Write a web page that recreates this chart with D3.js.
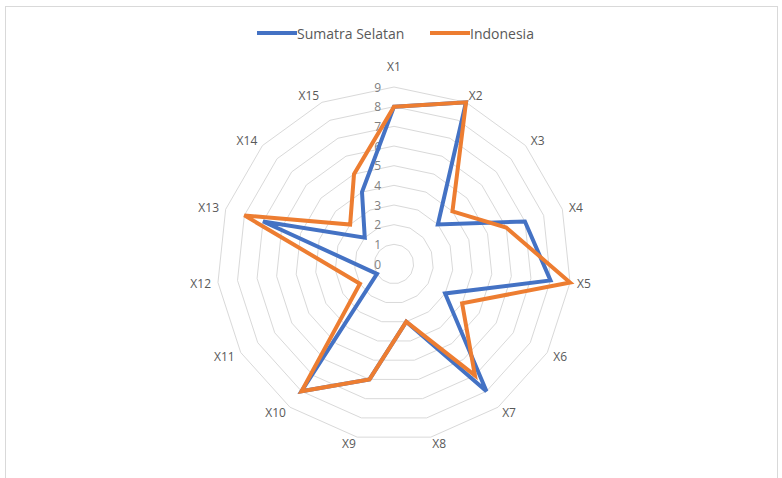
<!DOCTYPE html>
<html>
<head>
<meta charset="utf-8">
<script src="https://cdn.jsdelivr.net/npm/d3@7"></script>
<style>
  html, body { margin: 0; padding: 0; background: #ffffff; }
  svg { display: block; font-family: "Open Sans", "Liberation Sans", sans-serif; }
</style>
</head>
<body>
<svg id="chart" width="782" height="478"></svg>
<script>
// Axis categories
const categories = ["X1","X2","X3","X4","X5","X6","X7","X8","X9","X10","X11","X12","X13","X14","X15"];
// Series values (X12 is empty in both series; the line connects across it)
const sumatraSelatan = [8, 9, 3, 7, 8, 3, 8, 3, 6, 8, 1, null, 7, 2, 4];
const indonesia      = [8, 9, 4, 6, 9, 4, 7, 3, 6, 8, 2, null, 8, 3, 5];
// Radial tick labels
const tickValues = [0, 1, 2, 3, 4, 5, 6, 7, 8, 9];

const seriesNames = ["Sumatra Selatan", "Indonesia"];
const seriesColors = ["#4472C4", "#ED7D31"];

const svg = d3.select("#chart");
const cx = 394, cy = 264;
const outerR = 177;

// Outer chart frame
svg.append("rect")
  .attr("x", 5.5).attr("y", 6.5)
  .attr("width", 772).attr("height", 500)
  .attr("fill", "#ffffff")
  .attr("stroke", "#d9d9d9").attr("stroke-width", 1);

const r = d3.scaleLinear().domain([0, 9]).range([0, outerR]);
const angle = d3.scaleLinear().domain([0, categories.length]).range([0, 2 * Math.PI]);

const g = svg.append("g").attr("transform", `translate(${cx},${cy})`);

// Grid rings (polygons)
const ringLine = d3.lineRadial()
  .angle((d, i) => angle(i))
  .radius(d => r(d))
  .curve(d3.curveLinearClosed);

g.append("g").selectAll("path")
  .data(tickValues.filter(v => v > 0))
  .join("path")
  .attr("d", v => ringLine(categories.map(() => v)))
  .attr("fill", "none")
  .attr("stroke", "#d9d9d9")
  .attr("stroke-width", 1);

// Radial value labels along the X1 axis
g.append("g").selectAll("text")
  .data(tickValues)
  .join("text")
  .attr("x", -13)
  .attr("y", v => -r(v))
  .attr("text-anchor", "end")
  .attr("dominant-baseline", "central")
  .attr("font-size", 12)
  .attr("fill", "#7f7f7f")
  .text(v => v);

// Category labels around the rim
const gap = 7;
g.append("g").selectAll("text")
  .data(categories)
  .join("text")
  .each(function(d, i) {
    const a = angle(i);
    const s = Math.sin(a), c = Math.cos(a);
    const rr = outerR + gap;
    let x = rr * s, y = -rr * c;
    let anchor = "middle";
    if (s > 0.05) anchor = "start";
    else if (s < -0.05) anchor = "end";
    if (anchor === "middle") y -= 14 * c;
    d3.select(this)
      .attr("x", x).attr("y", y)
      .attr("text-anchor", anchor);
  })
  .attr("dominant-baseline", "central")
  .attr("font-size", 12)
  .attr("fill", "#595959")
  .text(d => d);

// Series lines
const seriesLine = d3.lineRadial()
  .angle(d => angle(d.i))
  .radius(d => r(d.v))
  .curve(d3.curveLinearClosed);

[sumatraSelatan, indonesia].forEach((vals, k) => {
  const pts = vals.map((v, i) => ({ i, v })).filter(d => d.v != null);
  g.append("path")
    .attr("d", seriesLine(pts))
    .attr("fill", "none")
    .attr("stroke", seriesColors[k])
    .attr("stroke-width", 4)
    .attr("stroke-linejoin", "miter");
});

// Legend
const legend = svg.append("g");
const legendItems = [
  { name: seriesNames[0], color: seriesColors[0], x: 257 },
  { name: seriesNames[1], color: seriesColors[1], x: 430 }
];
legendItems.forEach(it => {
  legend.append("line")
    .attr("x1", it.x).attr("x2", it.x + 40)
    .attr("y1", 33).attr("y2", 33)
    .attr("stroke", it.color).attr("stroke-width", 4);
  legend.append("text")
    .attr("x", it.x + 40).attr("y", 33)
    .attr("dominant-baseline", "central")
    .attr("font-size", 14)
    .attr("fill", "#595959")
    .text(it.name);
});
</script>
</body>
</html>
